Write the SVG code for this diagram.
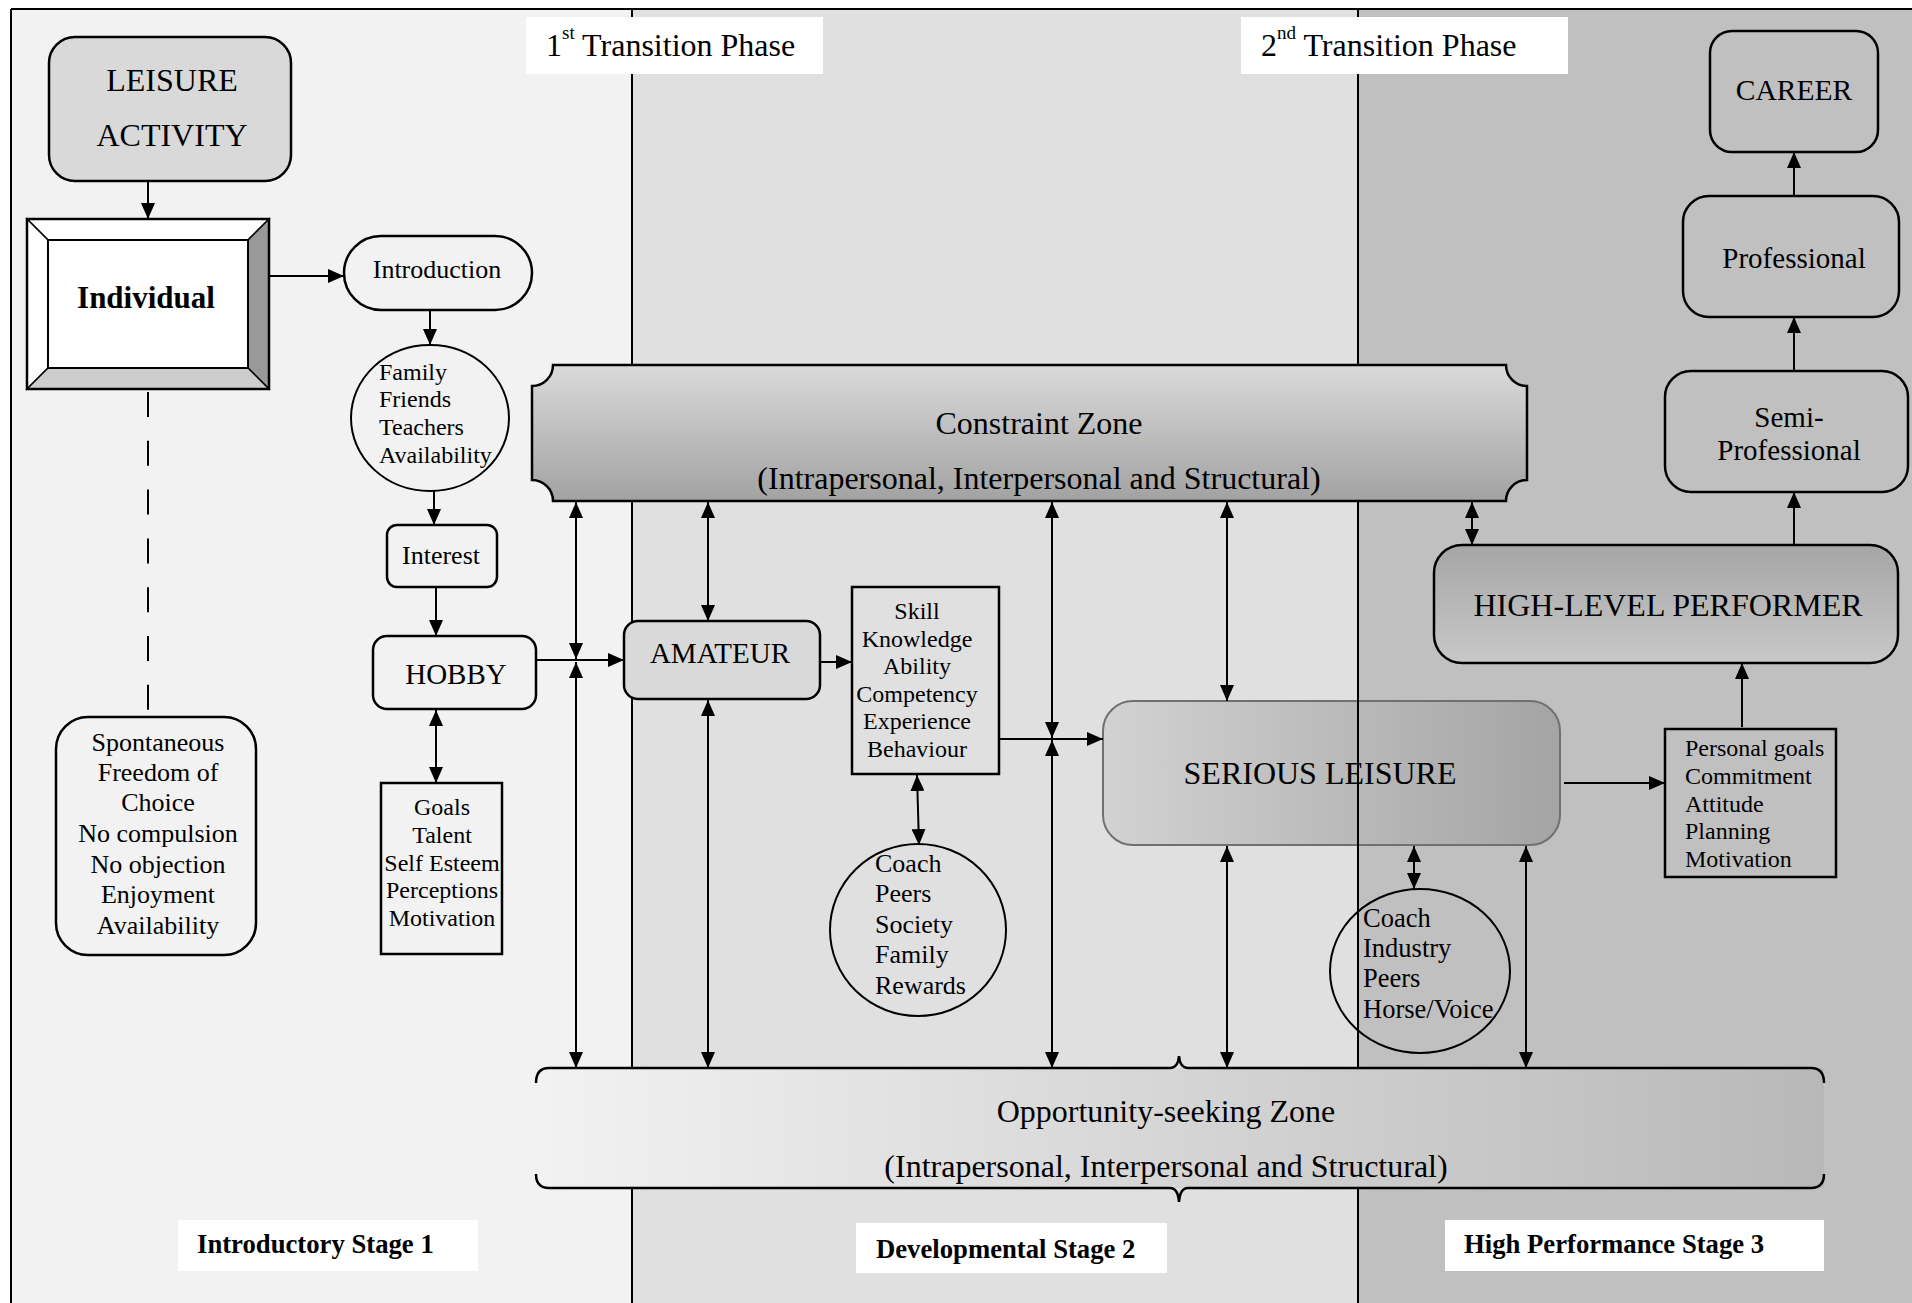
<svg xmlns="http://www.w3.org/2000/svg" width="1912" height="1303" viewBox="0 0 1912 1303">
<style>
text{font-family:"Liberation Serif","Times New Roman",serif;fill:#000}
.f24{font-size:24px}.f26{font-size:26px}.f29{font-size:29px}.f31{font-size:31px}.f32{font-size:32px}
.b{font-weight:bold}
.m{text-anchor:middle}
.box{stroke:#000;stroke-width:2.5}
.cn line{stroke:#000;stroke-width:2;fill:none}
.one{marker-end:url(#ah)}
.two{marker-start:url(#ah);marker-end:url(#ah)}
.div{stroke:#000;stroke-width:2}
</style>
<defs>
<marker id="ah" markerUnits="userSpaceOnUse" markerWidth="16" markerHeight="14" refX="16" refY="7" orient="auto-start-reverse"><path d="M0,0 L16,7 L0,14 Z" fill="#000"/></marker>
<linearGradient id="gCon" x1="0" y1="0" x2="0" y2="1"><stop offset="0" stop-color="#dadada"/><stop offset="1" stop-color="#a2a2a2"/></linearGradient>
<linearGradient id="gOpp" x1="0" y1="0" x2="1" y2="0"><stop offset="0" stop-color="#f2f2f2"/><stop offset="1" stop-color="#b8b8b8"/></linearGradient>
<linearGradient id="gSer" x1="0" y1="0" x2="1" y2="0"><stop offset="0" stop-color="#d2d2d2"/><stop offset="1" stop-color="#a4a4a4"/></linearGradient>
<linearGradient id="gHigh" x1="0" y1="0" x2="0" y2="1"><stop offset="0" stop-color="#a6a6a6"/><stop offset="1" stop-color="#c8c8c8"/></linearGradient>
</defs>
<rect x="0" y="0" width="1912" height="1303" fill="#fff"/>
<g id="backgrounds">
<rect x="11" y="9" width="621" height="1294" fill="#f2f2f2"/>
<rect x="632" y="9" width="726" height="1294" fill="#e0e0e0"/>
<rect x="1358" y="9" width="554" height="1294" fill="#c0c0c0"/>
<line x1="11" y1="9" x2="1912" y2="9" class="div"/>
<line x1="11" y1="9" x2="11" y2="1303" class="div"/>
</g>
<g id="serious-leisure">
<rect x="1103" y="701" width="457" height="144" rx="30" fill="url(#gSer)" stroke="#707070" stroke-width="2"/>
<text x="1320" y="784" class="f32 m">SERIOUS LEISURE</text>
</g>
<g id="industry-circle">
<ellipse cx="1420" cy="971" rx="90" ry="82" fill="none" stroke="#000" stroke-width="2"/>
<text style="font-size:26.5px"><tspan x="1363" y="927">Coach</tspan><tspan x="1363" y="957">Industry</tspan><tspan x="1363" y="987">Peers</tspan><tspan x="1363" y="1018">Horse/Voice</tspan></text>
</g>
<g id="dividers">
<line x1="632" y1="9" x2="632" y2="1303" class="div"/>
<line x1="1358" y1="9" x2="1358" y2="1303" class="div"/>
</g>
<g id="title-1">
<rect x="526" y="17" width="297" height="57" fill="#fff"/>
<text x="546" y="56" style="font-size:32px">1<tspan style="font-size:19px" dy="-17">st</tspan><tspan dy="17"> Transition Phase</tspan></text>
</g>
<g id="title-2">
<rect x="1241" y="17" width="327" height="57" fill="#fff"/>
<text x="1261" y="56" style="font-size:32px">2<tspan style="font-size:19px" dy="-17">nd</tspan><tspan dy="17"> Transition Phase</tspan></text>
</g>
<g id="stage-1">
<rect x="178" y="1220" width="300" height="51" fill="#fff"/>
<text x="197" y="1253" class="b" style="font-size:26.7px">Introductory Stage 1</text>
</g>
<g id="stage-2">
<rect x="856" y="1223" width="311" height="50" fill="#fff"/>
<text x="876" y="1258" class="b" style="font-size:26.7px">Developmental Stage 2</text>
</g>
<g id="stage-3">
<rect x="1445" y="1220" width="379" height="51" fill="#fff"/>
<text x="1464" y="1253" class="b" style="font-size:26.7px">High Performance Stage 3</text>
</g>
<g id="leisure-activity">
<rect x="49" y="37" width="242" height="144" rx="26" fill="#d9d9d9" class="box"/>
<text x="172" y="91" class="f32 m">LEISURE</text>
<text x="172" y="146" class="f32 m">ACTIVITY</text>
</g>
<g id="individual">
<polygon points="27,219 269,219 248,240 48,240" fill="#fff" stroke="#000" stroke-width="1.5"/>
<polygon points="27,219 48,240 48,368 27,389" fill="#fff" stroke="#000" stroke-width="1.5"/>
<polygon points="269,219 269,389 248,368 248,240" fill="#999" stroke="#000" stroke-width="1.5"/>
<polygon points="27,389 48,368 248,368 269,389" fill="#ccc" stroke="#000" stroke-width="1.5"/>
<rect x="48" y="240" width="200" height="128" fill="#fff" stroke="#000" stroke-width="2"/>
<rect x="27" y="219" width="242" height="170" fill="none" class="box"/>
<text x="146" y="308" class="f31 b m">Individual</text>
</g>
<g id="spontaneous">
<rect x="56" y="717" width="200" height="238" rx="32" fill="#f2f2f2" class="box"/>
<text class="f26 m"><tspan x="158" y="751">Spontaneous</tspan><tspan x="158" y="781">Freedom of</tspan><tspan x="158" y="811">Choice</tspan><tspan x="158" y="842">No compulsion</tspan><tspan x="158" y="873">No objection</tspan><tspan x="158" y="903">Enjoyment</tspan><tspan x="158" y="934">Availability</tspan></text>
</g>
<g id="introduction">
<rect x="344" y="236" width="188" height="74" rx="37" fill="#f2f2f2" class="box"/>
<text x="437" y="278" class="f26 m">Introduction</text>
</g>
<g id="family-circle">
<ellipse cx="430" cy="418" rx="79" ry="73" fill="#f2f2f2" stroke="#000" stroke-width="2"/>
<text class="f24"><tspan x="379" y="380">Family</tspan><tspan x="379" y="407">Friends</tspan><tspan x="379" y="435">Teachers</tspan><tspan x="379" y="463">Availability</tspan></text>
</g>
<g id="interest">
<rect x="387" y="525" width="110" height="62" rx="10" fill="#f2f2f2" class="box"/>
<text x="441" y="564" class="f26 m">Interest</text>
</g>
<g id="hobby">
<rect x="373" y="636" width="163" height="73" rx="14" fill="#f2f2f2" class="box"/>
<text x="456" y="684" class="f29 m">HOBBY</text>
</g>
<g id="goals">
<rect x="381" y="783" width="121" height="171" fill="#f2f2f2" class="box"/>
<text class="f24 m"><tspan x="442" y="815">Goals</tspan><tspan x="442" y="843">Talent</tspan><tspan x="442" y="871">Self Esteem</tspan><tspan x="442" y="898">Perceptions</tspan><tspan x="442" y="926">Motivation</tspan></text>
</g>
<g id="amateur">
<rect x="624" y="621" width="196" height="78" rx="14" fill="#d9d9d9" class="box"/>
<text x="720" y="663" class="f29 m">AMATEUR</text>
</g>
<g id="skill">
<rect x="852" y="587" width="147" height="187" fill="#e0e0e0" class="box"/>
<text class="f24 m"><tspan x="917" y="619">Skill</tspan><tspan x="917" y="647">Knowledge</tspan><tspan x="917" y="674">Ability</tspan><tspan x="917" y="702">Competency</tspan><tspan x="917" y="729">Experience</tspan><tspan x="917" y="757">Behaviour</tspan></text>
</g>
<g id="coach-circle">
<ellipse cx="918" cy="930" rx="88" ry="86" fill="#e0e0e0" stroke="#000" stroke-width="2"/>
<text class="f26"><tspan x="875" y="872">Coach</tspan><tspan x="875" y="902">Peers</tspan><tspan x="875" y="933">Society</tspan><tspan x="875" y="963">Family</tspan><tspan x="875" y="994">Rewards</tspan></text>
</g>
<g id="personal-goals">
<rect x="1665" y="729" width="171" height="148" fill="#c0c0c0" class="box"/>
<text class="f24"><tspan x="1685" y="756">Personal goals</tspan><tspan x="1685" y="784">Commitment</tspan><tspan x="1685" y="812">Attitude</tspan><tspan x="1685" y="839">Planning</tspan><tspan x="1685" y="867">Motivation</tspan></text>
</g>
<g id="high-level-performer">
<rect x="1434" y="545" width="464" height="118" rx="28" fill="url(#gHigh)" class="box"/>
<text x="1668" y="616" class="f32 m">HIGH-LEVEL PERFORMER</text>
</g>
<g id="semi-professional">
<rect x="1665" y="371" width="243" height="121" rx="26" fill="#c0c0c0" class="box"/>
<text x="1789" y="427" class="f29 m">Semi-</text>
<text x="1789" y="460" class="f29 m">Professional</text>
</g>
<g id="professional">
<rect x="1683" y="196" width="216" height="121" rx="26" fill="#c0c0c0" class="box"/>
<text x="1794" y="268" class="f29 m">Professional</text>
</g>
<g id="career">
<rect x="1710" y="31" width="168" height="121" rx="22" fill="#c0c0c0" class="box"/>
<text x="1794" y="100" style="font-size:29.5px" class="m">CAREER</text>
</g>
<g id="constraint-zone">
<path d="M553,365 H1506 A21,21 0 0 0 1527,386 V480 A21,21 0 0 0 1506,501 H553 A21,21 0 0 0 532,480 V386 A21,21 0 0 0 553,365 Z" fill="url(#gCon)" stroke="#000" stroke-width="2.5"/>
<text x="1039" y="434" class="f32 m">Constraint Zone</text>
<text x="1039" y="489" class="f32 m">(Intrapersonal, Interpersonal and Structural)</text>
</g>
<g id="opportunity-zone">
<rect x="536" y="1068" width="1288" height="120" fill="url(#gOpp)"/>
<path d="M536,1083 Q536,1068 549,1068 H1170 Q1178,1068 1179,1056 Q1180,1068 1188,1068 H1811 Q1824,1068 1824,1083" fill="none" stroke="#000" stroke-width="2.5"/>
<path d="M536,1174 Q536,1188 549,1188 H1170 Q1178,1188 1179,1202 Q1180,1188 1188,1188 H1811 Q1824,1188 1824,1174" fill="none" stroke="#000" stroke-width="2.5"/>
<text x="1166" y="1122" class="f32 m">Opportunity-seeking Zone</text>
<text x="1166" y="1177" class="f32 m">(Intrapersonal, Interpersonal and Structural)</text>
</g>
<g id="connectors" class="cn">
<line x1="148" y1="392" x2="148" y2="710" stroke-dasharray="25 23.8"/>
<line x1="148" y1="182" x2="148" y2="219" class="one"/>
<line x1="269" y1="276" x2="344" y2="276" class="one"/>
<line x1="430" y1="310" x2="430" y2="345" class="one"/>
<line x1="434" y1="491" x2="434" y2="525" class="one"/>
<line x1="436" y1="587" x2="436" y2="636" class="one"/>
<line x1="436" y1="710" x2="436" y2="783" class="two"/>
<line x1="536" y1="660" x2="624" y2="660" class="one"/>
<line x1="576" y1="502" x2="576" y2="659" class="two"/>
<line x1="576" y1="662" x2="576" y2="1068" class="two"/>
<line x1="708" y1="502" x2="708" y2="621" class="two"/>
<line x1="708" y1="700" x2="708" y2="1068" class="two"/>
<line x1="820" y1="662" x2="852" y2="662" class="one"/>
<line x1="917" y1="775" x2="919" y2="845" class="two"/>
<line x1="999" y1="739" x2="1103" y2="739" class="one"/>
<line x1="1052" y1="502" x2="1052" y2="738" class="two"/>
<line x1="1052" y1="740" x2="1052" y2="1068" class="two"/>
<line x1="1227" y1="502" x2="1227" y2="701" class="two"/>
<line x1="1227" y1="846" x2="1227" y2="1068" class="two"/>
<line x1="1414" y1="846" x2="1414" y2="889" class="two"/>
<line x1="1526" y1="846" x2="1526" y2="1068" class="two"/>
<line x1="1564" y1="783" x2="1665" y2="783" class="one"/>
<line x1="1742" y1="727" x2="1742" y2="663" class="one"/>
<line x1="1472" y1="502" x2="1472" y2="545" class="two"/>
<line x1="1794" y1="545" x2="1794" y2="492" class="one"/>
<line x1="1794" y1="371" x2="1794" y2="317" class="one"/>
<line x1="1794" y1="196" x2="1794" y2="152" class="one"/>
</g>
</svg>
